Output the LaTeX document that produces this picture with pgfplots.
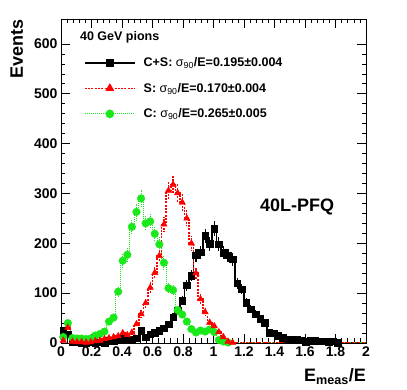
\documentclass[border=0pt]{standalone}
\usepackage{fontspec}
\setmainfont{Liberation Sans}
\usepackage{pgfplots}
\pgfplotsset{compat=1.18}
\usepackage{pgfplotstable}
\definecolor{rootgreen}{RGB}{25,232,25}

% bin centres (width 0.03), counts for C+S, S, C
\pgfplotstableread{
x     cs   s    c
0.015 25   5    12
0.045 18   31   40
0.075 3    3    10
0.105 2    2    9
0.135 1    2    9
0.165 1    1    8
0.195 2    2    9
0.225 1    4    15
0.255 2    5    18
0.285 1    8    23
0.315 5    10   43
0.345 4    12   51
0.375 8    14   103
0.405 9    20   165
0.435 8    16   177
0.465 8    21   233
0.495 10   38   263
0.525 25   58   290
0.555 12   80   240
0.585 18   111  244
0.615 21   141  219
0.645 25   175  198
0.675 30   238  161
0.705 38   306  110
0.735 52   318  106
0.765 66   301  66
0.795 85   282  57
0.825 116  250  43
0.855 135  200  28
0.885 176  140  21
0.915 182  88   25
0.945 215  62   23
0.975 199  41   27
1.005 229  34   22
1.035 198  22   6
1.065 181  12   3
1.095 176  3    1
1.125 168  1    0
1.155 120  0    0
1.185 108  0    0
1.215 81   0    0
1.245 68   0    0
1.275 58   0    0
1.305 49   0    0
1.335 41   0    0
1.365 21   0    0
1.395 20   0    0
1.425 15   0    0
1.455 11   0    0
1.485 8    0    0
1.515 8    0    0
1.545 8    0    0
1.575 6    0    0
1.605 3    0    0
1.635 5    0    0
1.665 5    0    0
1.695 4    0    0
1.725 4    0    0
1.755 3    0    0
1.785 4    0    0
1.815 1    0    0
1.845 0    0    0
1.875 0    0    0
1.905 0    0    0
1.935 0    0    0
1.965 0    0    0
1.995 0    0    0
}\histdata

\begin{document}
\begin{tikzpicture}
\path[use as bounding box] (-61pt,-47pt) rectangle (346pt,343pt);
\begin{axis}[
  scale only axis, width=305pt, height=324pt,
  xmin=0, xmax=2, ymin=0, ymax=650,
  xtick={0,0.2,0.4,0.6,0.8,1,1.2,1.4,1.6,1.8,2},
  xticklabels={0,0.2,0.4,0.6,0.8,1,1.2,1.4,1.6,1.8,2},
  ytick={0,100,200,300,400,500,600},
  minor x tick num=4, minor y tick num=4,
  tick align=inside, major tick length=9pt, minor tick length=4.5pt,
  axis line style={line width=0.7pt},
  tick style={line width=0.6pt, black},
  /pgf/number format/assume math mode=true,
  tick label style={font=\bfseries\fontsize{14}{14}\selectfont},
  xlabel={E\textsubscript{meas}/E},
  ylabel={Events},
  xlabel style={at={(axis description cs:1,0)}, anchor=base east,
    yshift=-39pt, inner sep=0pt, font=\bfseries\fontsize{18}{18}\selectfont},
  ylabel style={at={(axis description cs:-0.145,1)}, anchor=east,
    inner sep=0pt, font=\bfseries\fontsize{18}{18}\selectfont},
  legend style={at={(axis description cs:0.075,0.888)}, anchor=north west,
    draw=none, fill=none, font=\bfseries\fontsize{12.5}{12.5}\selectfont,
    row sep=11pt, inner sep=0pt,
    /tikz/every odd column/.append style={column sep=6pt}},
  legend cell align=left,
  legend image code/.code={\draw[#1, mark repeat=2, mark phase=2]
    plot coordinates {(0pt,0pt)(25pt,0pt)(50pt,0pt)};},
]
\addlegendimage{black, line width=1.6pt, mark=square*, mark size=3.3pt}
\addlegendentry{C+S: {\mdseries σ\textsubscript{90}}/E=0.195±0.004}
\addlegendimage{red, line width=1.5pt, dash pattern=on 2pt off 1.3pt,
  mark=triangle*, mark size=3.7pt, mark options={solid}}
\addlegendentry{S: {\mdseries σ\textsubscript{90}}/E=0.170±0.004}
\addlegendimage{rootgreen, line width=1.1pt, dash pattern=on 1pt off 1pt,
  mark=*, mark size=3.8pt, mark options={solid}}
\addlegendentry{C: {\mdseries σ\textsubscript{90}}/E=0.265±0.005}

% C+S
\addplot[black, line width=1.6pt, const plot mark mid, forget plot]
  table[x=x, y=cs]{\histdata};
\addplot[black, only marks, mark=square*, mark size=3.3pt,
  restrict y to domain=0.5:1000, forget plot,
  error bars/.cd, y dir=both, y explicit, error mark=none,
  error bar style={line width=1.2pt}]
  table[x=x, y=cs, y error expr={sqrt(\thisrow{cs})}]{\histdata};
% C
\addplot[rootgreen, line width=1.1pt, dash pattern=on 1pt off 1pt,
  const plot mark mid, forget plot]
  table[x=x, y=c]{\histdata};
\addplot[rootgreen, only marks, mark=*, mark size=3.8pt,
  restrict y to domain=0.5:1000, forget plot,
  error bars/.cd, y dir=both, y explicit, error mark=none,
  error bar style={line width=1pt, dash pattern=on 1pt off 1pt}]
  table[x=x, y=c, y error expr={sqrt(\thisrow{c})}]{\histdata};
% S
\addplot[red, line width=1.5pt, dash pattern=on 2pt off 1.3pt,
  const plot mark mid, forget plot]
  table[x=x, y=s]{\histdata};
\addplot[red, only marks, mark=triangle*, mark size=3.7pt,
  restrict y to domain=0.5:1000, forget plot,
  error bars/.cd, y dir=both, y explicit, error mark=none,
  error bar style={line width=1.2pt, dash pattern=on 2pt off 1.3pt}]
  table[x=x, y=s, y error expr={sqrt(\thisrow{s})}]{\histdata};

\node[anchor=west, inner sep=0pt, font=\bfseries\fontsize{12.5}{12.5}\selectfont]
  at (axis description cs:0.062,0.943) {40 GeV pions};
\node[font=\bfseries\fontsize{18}{18}\selectfont]
  at (axis cs:1.548,272) {40L-PFQ};
\end{axis}
\end{tikzpicture}
\end{document}
